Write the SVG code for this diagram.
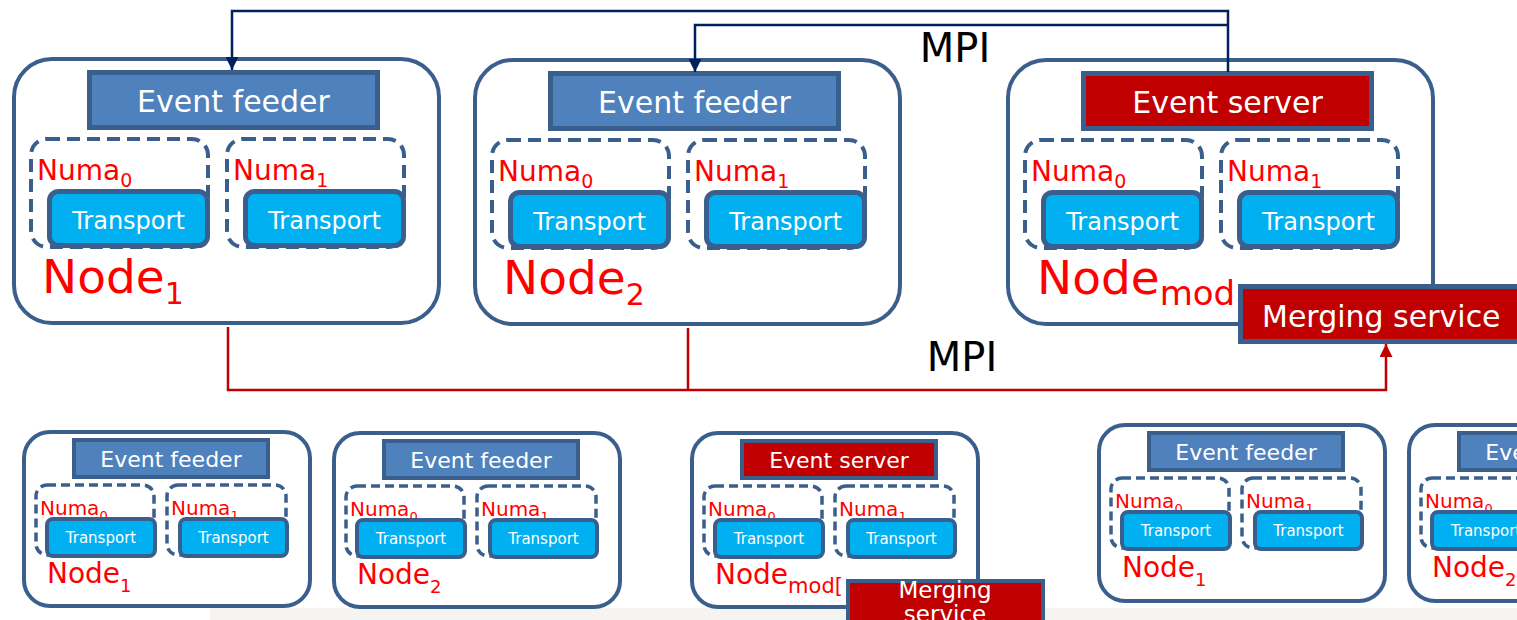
<svg xmlns="http://www.w3.org/2000/svg" width="1517" height="620" viewBox="0 0 1517 620">
  <style>
    text { font-family: "DejaVu Sans", "Liberation Sans", sans-serif; }
    .frame { fill: #ffffff; stroke: #3b5f8d; stroke-width: 4; }
    .feeder { fill: #4f81bd; stroke: #3b5f8d; stroke-width: 5; }
    .server { fill: #c00000; stroke: #3b5f8d; stroke-width: 5; }
    .numa { fill: none; stroke: #3b5f8d; stroke-width: 4; stroke-dasharray: 13 7; }
    .tp { fill: #00b0f0; stroke: #3b5f8d; stroke-width: 5; }
    .mini .feeder, .mini .server, .mini .tp { stroke-width: 4; }
    .mini .numa { stroke-width: 3.5; stroke-dasharray: 9 5; }
    .box-t { fill: #ffffff; text-anchor: middle; font-size: 30px; }
    .tp-t { fill: #ffffff; text-anchor: middle; font-size: 24px; }
    .numa-t { fill: #ff0000; font-size: 28px; }
    .numa-t .sub { font-size: 19px; }
    .node-t { fill: #ff0000; font-size: 47px; }
    .node-t .sub { font-size: 30px; }
    .node-t .sub.wide { font-size: 34px; }
    .mini .box-t { font-size: 22px; }
    .mini .tp-t { font-size: 15px; }
    .mini .numa-t { font-size: 20px; }
    .mini .numa-t .sub { font-size: 13px; }
    .mini .node-t { font-size: 28px; }
    .mini .node-t .sub { font-size: 18px; }
    .mini .node-t .sub.wide { font-size: 21px; }
    .mpi { fill: #000000; font-size: 40px; text-anchor: middle; }
    .navy { fill: none; stroke: #002060; stroke-width: 2.5; }
    .red { fill: none; stroke: #c00000; stroke-width: 2.5; }
  </style>
  <defs>
    <marker id="ah-navy" viewBox="0 0 10 10" refX="10" refY="5" markerWidth="15" markerHeight="13" markerUnits="userSpaceOnUse" orient="auto">
      <path d="M0,0 L10,5 L0,10 z" fill="#002060"/>
    </marker>
    <marker id="ah-red" viewBox="0 0 10 10" refX="10" refY="5" markerWidth="15" markerHeight="13" markerUnits="userSpaceOnUse" orient="auto">
      <path d="M0,0 L10,5 L0,10 z" fill="#c00000"/>
    </marker>
  </defs>

  <!-- pale strip along the bottom edge -->
  <rect x="210" y="608" width="1307" height="12" fill="#f5f4f0"/>

  <!-- large cluster nodes -->
  <g id="node-1" transform="translate(12,57)">
    <rect class="frame" x="2" y="2" width="425" height="264" rx="38"/>
    <rect class="feeder" x="77.5" y="15.5" width="288" height="55"/>
    <text class="box-t" x="221.5" y="55">Event feeder</text>
    <rect class="numa" x="19" y="82" width="177" height="108" rx="16"/>
    <rect class="numa" x="215" y="82" width="177" height="108" rx="16"/>
    <text class="numa-t" x="25" y="123">Numa<tspan class="sub" dy="7">0</tspan></text>
    <text class="numa-t" x="221" y="123">Numa<tspan class="sub" dy="7">1</tspan></text>
    <rect class="tp" x="37.5" y="134.5" width="158" height="54" rx="9"/>
    <rect class="tp" x="233.5" y="134.5" width="158" height="54" rx="9"/>
    <text class="tp-t" x="116.5" y="172">Transport</text>
    <text class="tp-t" x="312.5" y="172">Transport</text>
    <text class="node-t" x="30" y="236">Node<tspan class="sub" dy="11">1</tspan></text>
  </g>

  <g id="node-2" transform="translate(473,58)">
    <rect class="frame" x="2" y="2" width="425" height="264" rx="38"/>
    <rect class="feeder" x="77.5" y="15.5" width="288" height="55"/>
    <text class="box-t" x="221.5" y="55">Event feeder</text>
    <rect class="numa" x="19" y="82" width="177" height="108" rx="16"/>
    <rect class="numa" x="215" y="82" width="177" height="108" rx="16"/>
    <text class="numa-t" x="25" y="123">Numa<tspan class="sub" dy="7">0</tspan></text>
    <text class="numa-t" x="221" y="123">Numa<tspan class="sub" dy="7">1</tspan></text>
    <rect class="tp" x="37.5" y="134.5" width="158" height="54" rx="9"/>
    <rect class="tp" x="233.5" y="134.5" width="158" height="54" rx="9"/>
    <text class="tp-t" x="116.5" y="172">Transport</text>
    <text class="tp-t" x="312.5" y="172">Transport</text>
    <text class="node-t" x="30" y="236">Node<tspan class="sub" dy="11">2</tspan></text>
  </g>

  <g id="node-3" transform="translate(1006,58)">
    <rect class="frame" x="2" y="2" width="425" height="264" rx="38"/>
    <rect class="server" x="77.5" y="15.5" width="288" height="55"/>
    <text class="box-t" x="221.5" y="55">Event server</text>
    <rect class="numa" x="19" y="82" width="177" height="108" rx="16"/>
    <rect class="numa" x="215" y="82" width="177" height="108" rx="16"/>
    <text class="numa-t" x="25" y="123">Numa<tspan class="sub" dy="7">0</tspan></text>
    <text class="numa-t" x="221" y="123">Numa<tspan class="sub" dy="7">1</tspan></text>
    <rect class="tp" x="37.5" y="134.5" width="158" height="54" rx="9"/>
    <rect class="tp" x="233.5" y="134.5" width="158" height="54" rx="9"/>
    <text class="tp-t" x="116.5" y="172">Transport</text>
    <text class="tp-t" x="312.5" y="172">Transport</text>
    <text class="node-t" x="31" y="236">Node<tspan class="sub wide" dy="11">mod</tspan></text>
  </g>

  <g id="merging-service">
    <rect class="server" x="1240.5" y="286.5" width="300" height="55"/>
    <text class="box-t" x="1262" y="327" style="text-anchor:start">Merging service</text>
  </g>

  <!-- small cluster nodes -->
  <g id="node-b1" class="mini" transform="translate(22,430)">
    <rect class="frame" x="2" y="2" width="286" height="174" rx="26"/>
    <rect class="feeder" x="52" y="10" width="194" height="37"/>
    <text class="box-t" x="149" y="37">Event feeder</text>
    <rect class="numa" x="14" y="55" width="118" height="70" rx="11"/>
    <rect class="numa" x="145" y="55" width="119" height="70" rx="11"/>
    <text class="numa-t" x="18" y="85">Numa<tspan class="sub" dy="5">0</tspan></text>
    <text class="numa-t" x="149" y="85">Numa<tspan class="sub" dy="5">1</tspan></text>
    <rect class="tp" x="25" y="89" width="108" height="37" rx="6"/>
    <rect class="tp" x="158" y="89" width="107" height="37" rx="6"/>
    <text class="tp-t" x="79" y="113">Transport</text>
    <text class="tp-t" x="211.5" y="113">Transport</text>
    <text class="node-t" x="25" y="153">Node<tspan class="sub" dy="9">1</tspan></text>
  </g>

  <g id="node-b2" class="mini" transform="translate(332,431)">
    <rect class="frame" x="2" y="2" width="286" height="174" rx="26"/>
    <rect class="feeder" x="52" y="10" width="194" height="37"/>
    <text class="box-t" x="149" y="37">Event feeder</text>
    <rect class="numa" x="14" y="55" width="118" height="70" rx="11"/>
    <rect class="numa" x="145" y="55" width="119" height="70" rx="11"/>
    <text class="numa-t" x="18" y="85">Numa<tspan class="sub" dy="5">0</tspan></text>
    <text class="numa-t" x="149" y="85">Numa<tspan class="sub" dy="5">1</tspan></text>
    <rect class="tp" x="25" y="89" width="108" height="37" rx="6"/>
    <rect class="tp" x="158" y="89" width="107" height="37" rx="6"/>
    <text class="tp-t" x="79" y="113">Transport</text>
    <text class="tp-t" x="211.5" y="113">Transport</text>
    <text class="node-t" x="25" y="153">Node<tspan class="sub" dy="9">2</tspan></text>
  </g>

  <g id="node-b3" class="mini" transform="translate(690,431)">
    <rect class="frame" x="2" y="2" width="286" height="174" rx="26"/>
    <rect class="server" x="52" y="10" width="194" height="37"/>
    <text class="box-t" x="149" y="37">Event server</text>
    <rect class="numa" x="14" y="55" width="118" height="70" rx="11"/>
    <rect class="numa" x="145" y="55" width="119" height="70" rx="11"/>
    <text class="numa-t" x="18" y="85">Numa<tspan class="sub" dy="5">0</tspan></text>
    <text class="numa-t" x="149" y="85">Numa<tspan class="sub" dy="5">1</tspan></text>
    <rect class="tp" x="25" y="89" width="108" height="37" rx="6"/>
    <rect class="tp" x="158" y="89" width="107" height="37" rx="6"/>
    <text class="tp-t" x="79" y="113">Transport</text>
    <text class="tp-t" x="211.5" y="113">Transport</text>
    <text class="node-t" x="25" y="153">Node<tspan class="sub wide" dy="9">mod[</tspan></text>
  </g>

  <g id="merging-service-b3" class="mini">
    <rect class="server" x="848" y="581" width="195" height="60"/>
    <text class="box-t" x="945" y="598" style="font-size:23px">Merging</text>
    <text class="box-t" x="945" y="622" style="font-size:23px">service</text>
  </g>

  <g id="node-b4" class="mini" transform="translate(1097,423)">
    <rect class="frame" x="2" y="2" width="286" height="176" rx="26"/>
    <rect class="feeder" x="52" y="10" width="194" height="37"/>
    <text class="box-t" x="149" y="37">Event feeder</text>
    <rect class="numa" x="14" y="55" width="118" height="70" rx="11"/>
    <rect class="numa" x="145" y="55" width="119" height="70" rx="11"/>
    <text class="numa-t" x="18" y="85">Numa<tspan class="sub" dy="5">0</tspan></text>
    <text class="numa-t" x="149" y="85">Numa<tspan class="sub" dy="5">1</tspan></text>
    <rect class="tp" x="25" y="89" width="108" height="37" rx="6"/>
    <rect class="tp" x="158" y="89" width="107" height="37" rx="6"/>
    <text class="tp-t" x="79" y="113">Transport</text>
    <text class="tp-t" x="211.5" y="113">Transport</text>
    <text class="node-t" x="25" y="154">Node<tspan class="sub" dy="9">1</tspan></text>
  </g>

  <g id="node-b5" class="mini" transform="translate(1407,423)">
    <rect class="frame" x="2" y="2" width="286" height="176" rx="26"/>
    <rect class="feeder" x="52" y="10" width="194" height="37"/>
    <text class="box-t" x="149" y="37">Event feeder</text>
    <rect class="numa" x="14" y="55" width="118" height="70" rx="11"/>
    <rect class="numa" x="145" y="55" width="119" height="70" rx="11"/>
    <text class="numa-t" x="18" y="85">Numa<tspan class="sub" dy="5">0</tspan></text>
    <text class="numa-t" x="149" y="85">Numa<tspan class="sub" dy="5">1</tspan></text>
    <rect class="tp" x="25" y="89" width="108" height="37" rx="6"/>
    <rect class="tp" x="158" y="89" width="107" height="37" rx="6"/>
    <text class="tp-t" x="79" y="113">Transport</text>
    <text class="tp-t" x="211.5" y="113">Transport</text>
    <text class="node-t" x="25" y="154">Node<tspan class="sub" dy="9">2</tspan></text>
  </g>

  <!-- MPI links: server to feeders, nodes to merging service -->
  <g id="connectors">
    <path class="navy" d="M1228,72 V11 H232 V70" marker-end="url(#ah-navy)"/>
    <path class="navy" d="M1228,25 H695 V72" marker-end="url(#ah-navy)"/>
    <text class="mpi" x="955" y="62">MPI</text>
    <path class="red" d="M228,327 V390 H1386 V344" marker-end="url(#ah-red)"/>
    <path class="red" d="M688,328 V390"/>
    <text class="mpi" x="962" y="371">MPI</text>
  </g>
</svg>
